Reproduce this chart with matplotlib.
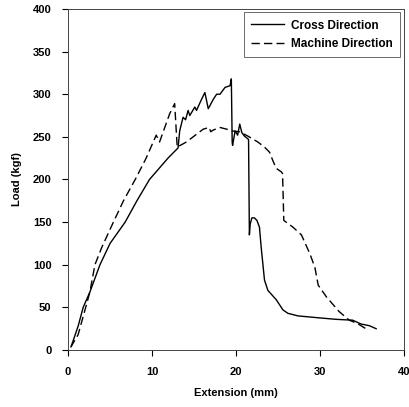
import matplotlib
matplotlib.use("Agg")
import matplotlib.pyplot as plt

plt.rcParams['font.family'] = ['Liberation Sans', 'DejaVu Sans']

# Cross Direction series
cross_x = [0.4, 1.2, 1.8, 2.6, 3.8, 5.0, 6.8, 8.2, 9.7, 11.9, 13.1, 13.3, 13.7, 14.0,
           14.3, 14.5, 15.1, 15.3, 15.9, 16.3, 16.7, 17.3, 17.7, 18.1, 18.7, 19.3,
           19.45, 19.55, 19.6, 19.9, 20.2, 20.45, 20.7, 21.0, 21.5, 21.6, 21.7, 21.9,
           22.2, 22.5, 22.8, 23.0, 23.4, 23.8, 24.8, 25.6, 26.2, 27.4, 29.6, 31.9,
           33.9, 34.9, 35.9, 36.7]
cross_y = [5, 28, 50, 68, 100, 125, 150, 175, 200, 225, 237, 257, 273, 270,
           281, 275, 285, 281, 294, 302, 283, 294, 300, 300, 308, 310,
           318, 244, 240, 257, 252, 265, 255, 251, 247, 135, 148, 155,
           155, 152, 144, 121, 82, 70, 59, 47, 43, 40, 38, 36,
           35, 30.5, 28.5, 25]

# Machine Direction series
machine_x = [0.3, 1.2, 2.1, 2.6, 3.2, 4.0, 5.4, 6.6, 8.0, 9.3, 10.5, 10.9, 12.1, 12.7,
             13.0, 14.1, 15.3, 16.1, 16.8, 17.0, 17.3, 18.1, 18.9, 19.5, 20.4, 21.4,
             22.6, 23.4, 24.0, 24.4, 24.8, 25.4, 25.55, 25.7, 26.8, 27.8, 28.8, 29.4,
             29.8, 30.8, 32.3, 33.5, 34.5, 35.3, 35.9]
machine_y = [3, 18, 50, 68, 100, 120, 150, 175, 200, 225, 252, 244, 277, 289,
             238, 244, 253, 259, 261, 256, 258, 261, 259, 257, 256, 251,
             244, 238, 232, 222, 213, 209, 207, 152, 144, 135, 113, 97,
             76, 62, 45, 35, 31, 26, 24]

series_labels = ["Cross Direction", "Machine Direction"]
x_ticks = [0, 10, 20, 30, 40]
y_ticks = [0, 50, 100, 150, 200, 250, 300, 350, 400]

fig = plt.figure(figsize=(4.10, 4.07), dpi=100)
ax = fig.add_axes([0.166, 0.140, 0.819, 0.838])

ax.plot(cross_x, cross_y, color='black', lw=1.0, linestyle='-', label=series_labels[0])
ax.plot(machine_x, machine_y, color='black', lw=1.0, linestyle=(0, (6, 3)),
        label=series_labels[1])

ax.set_xlim(0, 40)
ax.set_ylim(0, 400)
ax.set_xticks(x_ticks)
ax.set_yticks(y_ticks)
ax.tick_params(direction='out', length=4, width=0.8, pad=8, labelsize=8)
for lab in ax.get_xticklabels() + ax.get_yticklabels():
    lab.set_fontweight('bold')

for s in ax.spines.values():
    s.set_linewidth(0.7)
    s.set_color('#444444')

ax.set_xlabel("Extension (mm)", fontsize=8, fontweight='bold', labelpad=8)
ax.set_ylabel("Load (kgf)", fontsize=8, fontweight='bold', labelpad=8)

leg = ax.legend(loc='upper right', frameon=True, fancybox=False,
                borderaxespad=0.3, handlelength=2.8, handletextpad=0.6,
                borderpad=0.6, labelspacing=0.55,
                prop={'weight': 'bold', 'size': 8.5})
leg.get_frame().set_edgecolor('#444444')
leg.get_frame().set_linewidth(0.7)

fig.savefig("out.png", dpi=100)
